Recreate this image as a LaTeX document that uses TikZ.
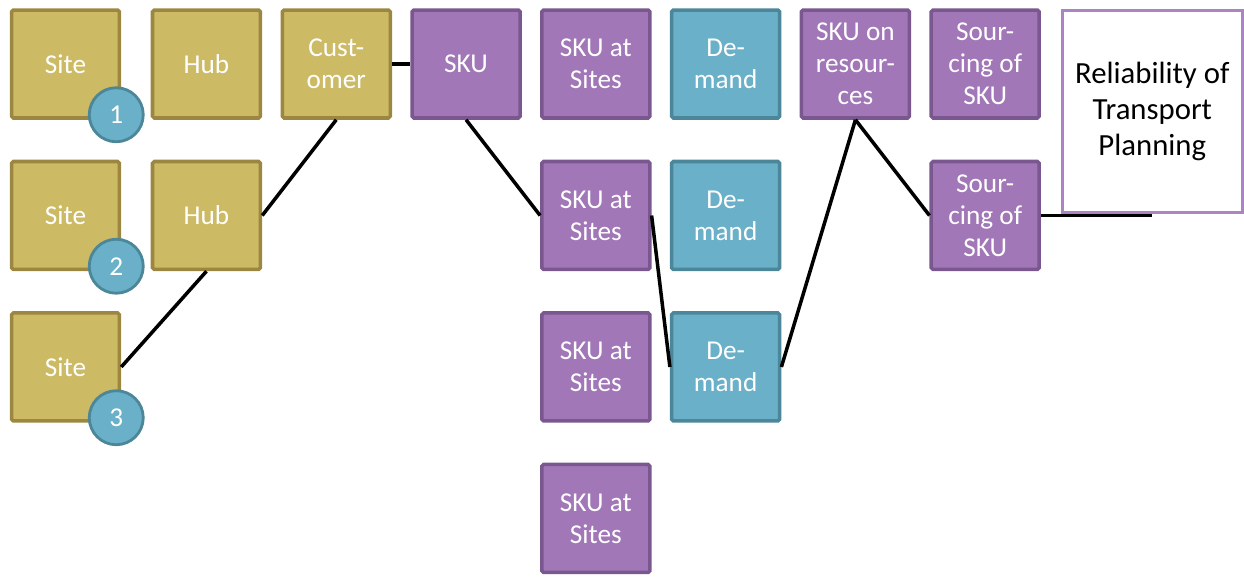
\documentclass[tikz,border=0pt]{standalone}
\usepackage{fontspec}
\setmainfont{Carlito}
\usetikzlibrary{positioning}
\definecolor{goldfill}{RGB}{205,186,100}
\definecolor{golddraw}{RGB}{155,135,65}
\definecolor{violetfill}{RGB}{161,119,183}
\definecolor{violetdraw}{RGB}{122,88,143}
\definecolor{tealfill}{RGB}{106,176,200}
\definecolor{tealdraw}{RGB}{76,134,153}
\definecolor{planline}{RGB}{172,132,198}

\tikzset{
    box/.style={rectangle, rounded corners=1pt, line width=2pt, minimum width=2.16cm,
        minimum height=2.16cm, inner sep=1pt, align=center, text=white,
        font=\fontsize{15.5}{18.2}\selectfont},
    goldbox/.style={box, fill=goldfill, draw=golddraw},
    violetbox/.style={box, fill=violetfill, draw=violetdraw},
    tealbox/.style={box, fill=tealfill, draw=tealdraw},
    badge/.style={circle, line width=1.6pt, fill=tealfill, draw=tealdraw, text=white,
        minimum size=1.08cm, inner sep=0pt, font=\fontsize{15.5}{18}\selectfont},
    planbox/.style={rectangle, line width=1.5pt, draw=planline, fill=white, align=center,
        minimum width=3.6cm, minimum height=4.04cm, font=\fontsize{17.5}{20.5}\selectfont},
    link/.style={line width=2pt, black}
}

\begin{document}
\begin{tikzpicture}[x=0.02cm, y=-0.02cm, node distance=0.8cm and 0.366cm]
        \useasboundingbox (0,0) rectangle (1244,576);
        % sites and hubs
        \node[goldbox] (site1) at (65.5,64) {Site};
        \node[goldbox, below=of site1] (site2) {Site};
        \node[goldbox, below=of site2] (site3) {Site};
        \node[goldbox, right=0.59cm of site1] (hub1) {Hub};
        \node[goldbox, below=of hub1] (hub2) {Hub};
        \node[goldbox, right=of hub1] (cust) {Cust-\\omer};
        \node[badge] (num1) at ([shift={(-5,-5)}]site1.south east) {1};
        \node[badge] (num2) at ([shift={(-5,-5)}]site2.south east) {2};
        \node[badge] (num3) at ([shift={(-5,-5)}]site3.south east) {3};
        % sku columns
        \node[violetbox, right=of cust] (sku) {SKU};
        \node[violetbox, right=of sku] (atsite1) {SKU at\\Sites};
        \node[violetbox, below=of atsite1] (atsite2) {SKU at\\Sites};
        \node[violetbox, below=of atsite2] (atsite3) {SKU at\\Sites};
        \node[violetbox, below=of atsite3] (atsite4) {SKU at\\Sites};
        \node[tealbox, right=of atsite1] (dem1) {De-\\mand};
        \node[tealbox, below=of dem1] (dem2) {De-\\mand};
        \node[tealbox, below=of dem2] (dem3) {De-\\mand};
        \node[violetbox, right=of dem1] (onres) {SKU on\\resour-\\ces};
        \node[violetbox, right=of onres] (src1) {Sour-\\cing of\\SKU};
        \node[violetbox, below=of src1] (src2) {Sour-\\cing of\\SKU};
        \node[planbox, anchor=north west] (plan) at (1061,9) {Reliability of\\Transport\\Planning};
        % connections
        \draw[link] (cust.east) -- (sku.west);
        \draw[link] (cust.south) -- (hub2.east);
        \draw[link] (hub2.south) -- (site3.east);
        \draw[link] (sku.south) -- (atsite2.west);
        \draw[link] (atsite2.east) -- (dem3.west);
        \draw[link] (dem3.east) -- (onres.south);
        \draw[link] (onres.south) -- (src2.west);
        \draw[link] (src2.east) -- (src2.east -| plan.south);
\end{tikzpicture}
\end{document}
